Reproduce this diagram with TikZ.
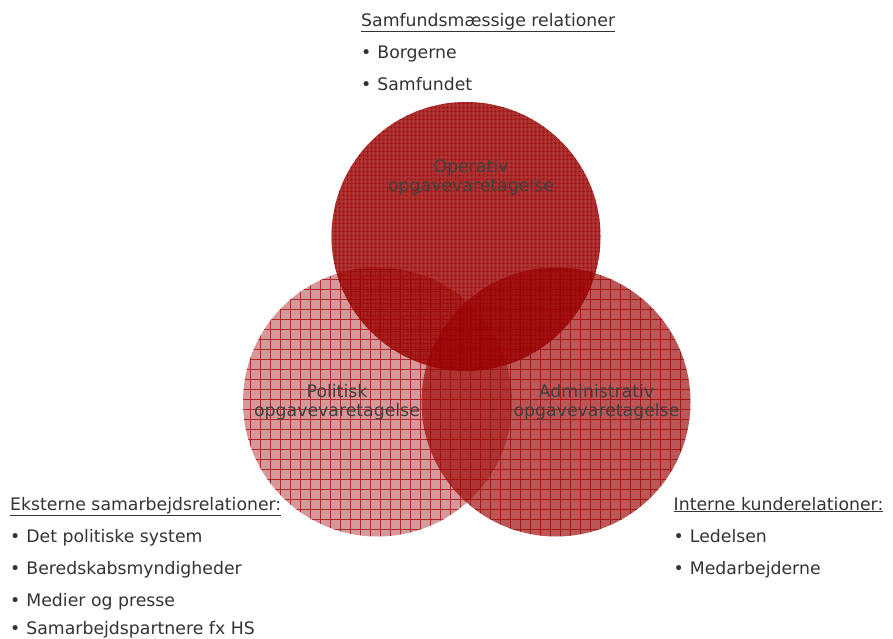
\documentclass[tikz,border=0pt]{standalone}
\usepackage{fontspec}
\setmainfont{DejaVu Sans}
\usetikzlibrary{patterns.meta}
\begin{document}
\begin{tikzpicture}[x=1pt,y=-1pt,
  ring/.style={circle, minimum size=269pt, inner sep=0pt, draw=none, fill=vred},
  coarsemesh/.style={pattern={Hatch[angle=0, distance=10pt, line width=0.8pt]}, pattern color=meshred},
  finemesh/.style={pattern={Hatch[angle=0, distance=4pt, line width=0.8pt]}, pattern color=meshred},
  lbl/.style={align=center, text=lbltext, font=\fontsize{17.3}{19.5}\selectfont, inner sep=0pt},
  listtxt/.style={anchor=base west, text=listtext, font=\fontsize{17.3}{20}\selectfont, inner sep=0pt}]
\definecolor{vred}{RGB}{153,0,0}
\definecolor{meshred}{RGB}{190,70,70}
\definecolor{lbltext}{RGB}{64,64,64}
\definecolor{listtext}{RGB}{51,51,51}
\useasboundingbox (0,0) rectangle (893,639);

% mesh texture underneath each area
\fill[finemesh] (466,236.5) circle[radius=134.5pt];
\fill[coarsemesh] (377.5,402) circle[radius=134.5pt];
\fill[coarsemesh] (556,402) circle[radius=134.5pt];

% the three overlapping areas of work as tinted discs
\node[ring, fill opacity=0.80] (op) at (466,236.5) {};
\node[ring, fill opacity=0.40] (pol) at (377.5,402) {};
\node[ring, fill opacity=0.66] (adm) at (556,402) {};

% area labels
\node[lbl] (oplbl) at (471,177) {Operativ\\opgavevaretagelse};
\node[lbl] (pollbl) at (337,402) {Politisk\\opgavevaretagelse};
\node[lbl] (admlbl) at (596.5,402) {Administrativ\\opgavevaretagelse};

% relations above
\node[listtxt] (sh) at (361,26.7) {\underline{Samfundsmæssige relationer}};
\node[listtxt] (s1) at (361,59) {\textbullet\hspace{6pt}Borgerne};
\node[listtxt] (s2) at (361,91) {\textbullet\hspace{6pt}Samfundet};

% relations to the left
\node[listtxt] (eh) at (10,510) {\underline{Eksterne samarbejdsrelationer:}};
\node[listtxt] (e1) at (10,542.5) {\textbullet\hspace{6pt}Det politiske system};
\node[listtxt] (e2) at (10,574.5) {\textbullet\hspace{6pt}Beredskabsmyndigheder};
\node[listtxt] (e3) at (10,606.5) {\textbullet\hspace{6pt}Medier og presse};
\node[listtxt] (e4) at (10,634.5) {\textbullet\hspace{6pt}Samarbejdspartnere fx HS};

% relations to the right
\node[listtxt] (ih) at (673.5,510) {\underline{Interne kunderelationer:}};
\node[listtxt] (i1) at (673.5,542.5) {\textbullet\hspace{6pt}Ledelsen};
\node[listtxt] (i2) at (673.5,574.5) {\textbullet\hspace{6pt}Medarbejderne};
\end{tikzpicture}
\end{document}
